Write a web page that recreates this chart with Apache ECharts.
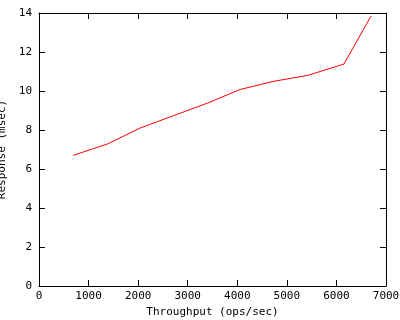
<!DOCTYPE html>
<html>
<head>
<meta charset="utf-8">
<script src="https://cdn.jsdelivr.net/npm/echarts@6/dist/echarts.min.js"></script>
<style>html,body{margin:0;padding:0;background:#fff}#c{width:400px;height:320px}</style>
</head>
<body>
<div id="c"></div>
<script>
var throughput = [690, 1380, 2040, 2720, 3400, 4060, 4740, 5420, 6150, 6700];
var response = [6.70, 7.28, 8.10, 8.74, 9.38, 10.08, 10.50, 10.80, 11.38, 13.85];
var xTicks = [0, 1000, 2000, 3000, 4000, 5000, 6000, 7000];
var yTicks = [0, 2, 4, 6, 8, 10, 12, 14];

var font = 'DejaVu Sans Mono';
var pts = throughput.map(function (x, i) { return [x, response[i]]; });
var lineStyle = { color: '#000', width: 1 };
var fmt = function (v) { return String(v); };
var chart = echarts.init(document.getElementById('c'), null, { renderer: 'canvas' });
chart.setOption({
  animation: false,
  backgroundColor: '#fff',
  grid: { left: 39, right: 14, top: 13, bottom: 34, show: false, containLabel: false, outerBoundsMode: 'none' },
  xAxis: [{
    type: 'value', min: xTicks[0], max: xTicks[xTicks.length - 1], interval: 1000,
    name: 'Throughput (ops/sec)', nameLocation: 'middle', nameGap: 16,
    nameTextStyle: { fontFamily: font, fontSize: 11, color: '#000' },
    axisLine: { show: true, onZero: false, lineStyle: lineStyle },
    axisTick: { show: true, inside: true, length: 6, lineStyle: lineStyle },
    axisLabel: { fontFamily: font, fontSize: 11, color: '#000', margin: 5, formatter: fmt },
    splitLine: { show: false }
  }, {
    type: 'value', position: 'top', min: xTicks[0], max: xTicks[xTicks.length - 1], interval: 1000,
    axisLine: { show: true, onZero: false, lineStyle: lineStyle },
    axisTick: { show: true, inside: true, length: 6, lineStyle: lineStyle },
    axisLabel: { show: false }, splitLine: { show: false }
  }],
  yAxis: [{
    type: 'value', min: yTicks[0], max: yTicks[yTicks.length - 1], interval: 2,
    name: 'Response (msec)', nameLocation: 'middle', nameGap: 30,
    nameTextStyle: { fontFamily: font, fontSize: 11, color: '#000' },
    axisLine: { show: true, onZero: false, lineStyle: lineStyle },
    axisTick: { show: true, inside: true, length: 6, lineStyle: lineStyle },
    axisLabel: { fontFamily: font, fontSize: 11, color: '#000', margin: 7, formatter: fmt },
    splitLine: { show: false }
  }, {
    type: 'value', position: 'right', min: yTicks[0], max: yTicks[yTicks.length - 1], interval: 2,
    axisLine: { show: true, onZero: false, lineStyle: lineStyle },
    axisTick: { show: true, inside: true, length: 6, lineStyle: lineStyle },
    axisLabel: { show: false }, splitLine: { show: false }
  }],
  series: [{
    type: 'line', data: pts, xAxisIndex: 0, yAxisIndex: 0,
    showSymbol: false, symbol: 'none',
    lineStyle: { color: '#ff0000', width: 1 }
  }]
});
</script>
</body>
</html>
